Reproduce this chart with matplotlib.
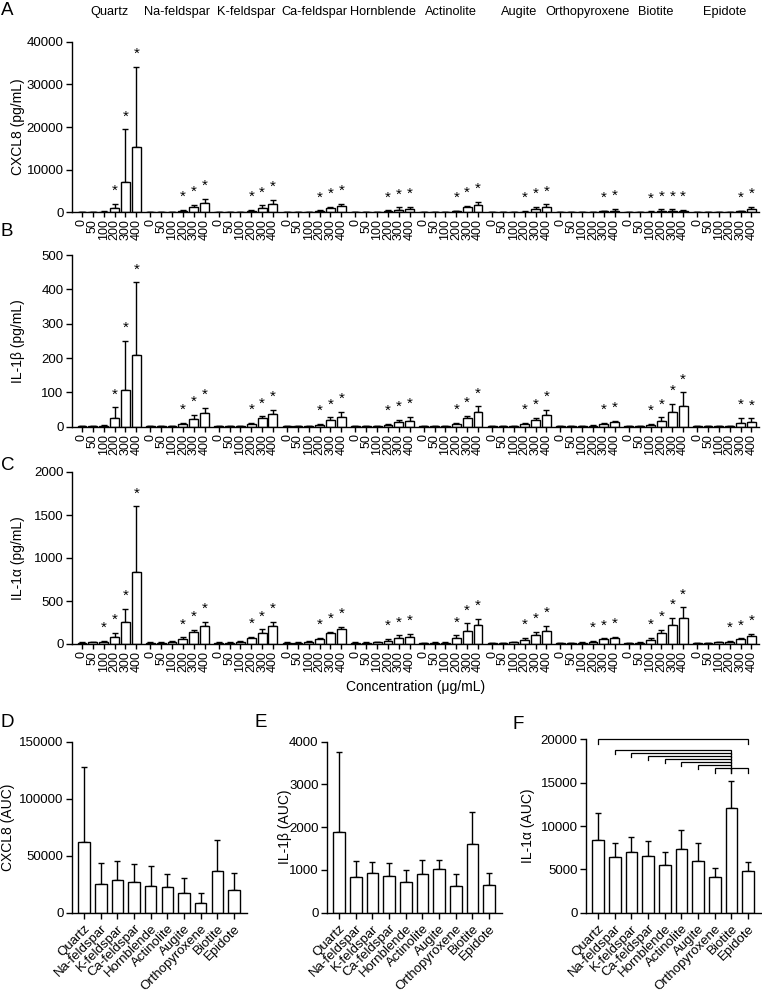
import numpy as np
import matplotlib
matplotlib.use("Agg")
import matplotlib.pyplot as plt
from matplotlib.transforms import blended_transform_factory

plt.rcParams['font.family'] = ['Liberation Sans', 'DejaVu Sans']
plt.rcParams['axes.linewidth'] = 1.0

# ---------------- data ----------------
groups = ['Quartz', 'Na-feldspar', 'K-feldspar', 'Ca-feldspar', 'Hornblende',
          'Actinolite', 'Augite', 'Orthopyroxene', 'Biotite', 'Epidote']
conc = ['0', '50', '100', '200', '300', '400']

cxcl8_mean = [
    [20, 30, 150, 950, 7050, 15400],
    [20, 20, 80, 300, 1150, 2100],
    [20, 20, 60, 300, 1000, 2000],
    [20, 20, 60, 250, 900, 1500],
    [20, 20, 50, 250, 550, 700],
    [20, 20, 50, 200, 1150, 1800],
    [20, 20, 50, 150, 780, 1150],
    [20, 20, 40, 80, 200, 400],
    [20, 20, 80, 300, 300, 200],
    [20, 20, 50, 80, 200, 780],
]
cxcl8_sd = [
    [40, 50, 200, 1000, 12400, 18600],
    [30, 30, 80, 250, 650, 950],
    [30, 30, 80, 250, 600, 900],
    [30, 30, 80, 200, 450, 550],
    [30, 30, 70, 200, 600, 600],
    [30, 30, 60, 200, 350, 700],
    [30, 30, 60, 150, 400, 700],
    [30, 30, 50, 80, 200, 400],
    [30, 30, 120, 400, 400, 300],
    [30, 30, 60, 80, 200, 550],
]
cxcl8_stars = [[3, 4, 5], [3, 4, 5], [3, 4, 5], [3, 4, 5], [3, 4, 5],
               [3, 4, 5], [3, 4, 5], [4, 5], [2, 3, 4, 5], [4, 5]]

il1b_mean = [
    [1, 2, 3, 24, 108, 208],
    [1, 1, 2, 8, 23, 39],
    [1, 1, 2, 8, 25, 38],
    [2, 2, 2, 5, 20, 29],
    [1, 1, 2, 5, 13, 17],
    [1, 1, 2, 8, 24, 43],
    [1, 1, 2, 8, 20, 33],
    [1, 1, 1, 3, 7, 13],
    [1, 1, 6, 18, 43, 59],
    [1, 1, 2, 2, 12, 14],
]
il1b_sd = [
    [1, 1, 3, 32, 141, 212],
    [1, 1, 1, 4, 11, 16],
    [1, 1, 1, 3, 5, 10],
    [1, 1, 1, 2, 7, 13],
    [1, 1, 1, 2, 7, 11],
    [1, 1, 1, 3, 8, 16],
    [1, 1, 1, 2, 6, 16],
    [1, 1, 1, 1, 3, 4],
    [1, 1, 3, 9, 23, 41],
    [1, 1, 1, 1, 13, 10],
]
il1b_stars = [[3, 4, 5], [3, 4, 5], [3, 4, 5], [3, 4, 5], [3, 4, 5],
              [3, 4, 5], [3, 4, 5], [4, 5], [2, 3, 4, 5], [4, 5]]

il1a_mean = [
    [15, 20, 20, 85, 255, 840],
    [15, 15, 20, 62, 140, 213],
    [15, 15, 20, 70, 132, 213],
    [15, 15, 25, 54, 128, 175],
    [15, 15, 20, 39, 70, 85],
    [10, 15, 15, 70, 155, 220],
    [10, 10, 20, 46, 108, 155],
    [10, 10, 15, 27, 54, 70],
    [10, 15, 46, 128, 225, 302],
    [10, 10, 20, 27, 54, 89],
]
il1a_sd = [
    [8, 8, 15, 45, 155, 760],
    [5, 5, 10, 15, 23, 47],
    [5, 5, 10, 15, 38, 47],
    [5, 5, 8, 20, 12, 25],
    [5, 5, 8, 19, 30, 31],
    [5, 5, 5, 30, 85, 70],
    [5, 5, 8, 24, 35, 58],
    [5, 5, 5, 12, 12, 15],
    [5, 5, 24, 35, 81, 124],
    [5, 5, 8, 12, 12, 27],
]
il1a_stars = [[2, 3, 4, 5], [3, 4, 5], [3, 4, 5], [3, 4, 5], [3, 4, 5],
              [3, 4, 5], [3, 4, 5], [3, 4, 5], [2, 3, 4, 5], [3, 4, 5]]

auc_cxcl8_mean = [62300, 25400, 28900, 27200, 23700, 22800, 17500, 8800, 36300, 19900]
auc_cxcl8_sd = [65700, 17900, 16100, 15500, 17500, 11100, 12600, 8200, 27700, 14900]
auc_il1b_mean = [1884, 845, 922, 860, 713, 899, 1016, 620, 1612, 643]
auc_il1b_sd = [1880, 364, 256, 303, 295, 334, 209, 287, 737, 295]
auc_il1a_mean = [8380, 6380, 6960, 6500, 5460, 7310, 5960, 4080, 12040, 4810]
auc_il1a_sd = [3080, 1660, 1730, 1770, 1580, 2270, 2120, 1110, 3160, 1070]

# significance comparisons for IL-1a AUC (pairs of group indices)
f_comparisons = [(0, 9), (1, 8), (2, 8), (3, 8), (4, 8), (5, 8), (6, 8), (7, 8), (8, 9)]

# ---------------- figure ----------------
W, H = 762, 991
fig = plt.figure(figsize=(W / 100, H / 100), dpi=100)


def frac_rect(left, top, right, bottom):
    return [left / W, 1 - bottom / H, (right - left) / W, (bottom - top) / H]


PITCH = 6.3
BAR_W = 0.82
TXT = 9.5


def dose_panel(rect, means, sds, stars, ymax, ystep, ylabel, show_groups=False):
    ax = fig.add_axes(rect)
    xs, ms, ss, labels = [], [], [], []
    for g in range(len(groups)):
        for j in range(len(conc)):
            xs.append(g * PITCH + j)
            ms.append(means[g][j])
            ss.append(sds[g][j])
            labels.append(conc[j])
    xs = np.array(xs, float)
    ms = np.array(ms, float)
    ss = np.array(ss, float)
    ax.bar(xs, ms, width=BAR_W, color='white', edgecolor='black', linewidth=1.0, zorder=2)
    ax.errorbar(xs, ms, yerr=[np.zeros_like(ss), ss], fmt='none', ecolor='black',
                elinewidth=1.0, capsize=2, capthick=1.0, zorder=1)
    for g in range(len(groups)):
        for j in stars[g]:
            x = g * PITCH + j
            ax.annotate('*', xy=(x, means[g][j] + sds[g][j]), xytext=(0, 6.5),
                        textcoords='offset points', ha='center', va='baseline',
                        fontsize=11, annotation_clip=False)
    ax.set_xlim(-0.92, (len(groups) - 1) * PITCH + 5 + 0.65)
    ax.set_ylim(0, ymax)
    ax.set_yticks(np.arange(0, ymax + 1, ystep))
    ax.set_xticks(xs)
    ax.set_xticklabels(labels, rotation=90, fontsize=9)
    ax.tick_params(axis='x', length=3.5, width=1.0, pad=1.5)
    ax.tick_params(axis='y', length=4, width=1.0, pad=2, labelsize=TXT)
    for s in ['top', 'right']:
        ax.spines[s].set_visible(False)
    ax.set_ylabel(ylabel, fontsize=10)
    ax.yaxis.set_label_coords(-0.0685, 0.5)
    if show_groups:
        tr = blended_transform_factory(ax.transData, fig.transFigure)
        for g, name in enumerate(groups):
            ax.text(g * PITCH + 2.5, 1 - 12 / H, name, transform=tr, ha='center',
                    va='center', fontsize=9.2)
    return ax


axA = dose_panel(frac_rect(72, 41.7, 758.5, 212.3), cxcl8_mean, cxcl8_sd, cxcl8_stars,
                 40000, 10000, 'CXCL8 (pg/mL)', show_groups=True)
axB = dose_panel(frac_rect(72, 255, 758.5, 426.7), il1b_mean, il1b_sd, il1b_stars,
                 500, 100, 'IL-1β (pg/mL)')
axC = dose_panel(frac_rect(72, 472, 758.5, 644), il1a_mean, il1a_sd, il1a_stars,
                 2000, 500, 'IL-1α (pg/mL)')
axC.set_xlabel('Concentration (μg/mL)', fontsize=10, labelpad=6)


def auc_panel(rect, means, sds, ymax, ystep, ylabel, label_x):
    ax = fig.add_axes(rect)
    xs = np.arange(len(groups))
    ax.bar(xs, means, width=0.7, color='white', edgecolor='black', linewidth=1.0, zorder=2)
    ax.errorbar(xs, means, yerr=[np.zeros(len(sds)), sds], fmt='none', ecolor='black',
                elinewidth=1.0, capsize=2.2, capthick=1.0, zorder=1)
    ax.set_xlim(-0.72, len(groups) - 1 + 0.78)
    ax.set_ylim(0, ymax)
    ax.set_yticks(np.arange(0, ymax + 1, ystep))
    ax.set_xticks(xs)
    ax.set_xticklabels(groups, rotation=45, ha='right', rotation_mode='anchor', fontsize=TXT)
    ax.tick_params(axis='x', length=4, width=1.0, pad=3)
    ax.tick_params(axis='y', length=4, width=1.0, pad=2, labelsize=TXT)
    for s in ['top', 'right']:
        ax.spines[s].set_visible(False)
    ax.set_ylabel(ylabel, fontsize=10)
    ax.yaxis.set_label_coords(label_x, 0.5)
    return ax


axD = auc_panel(frac_rect(72, 741.7, 247, 912.7), auc_cxcl8_mean, auc_cxcl8_sd,
                150000, 50000, 'CXCL8 (AUC)', -0.326)
axE = auc_panel(frac_rect(327, 741.7, 502, 912.7), auc_il1b_mean, auc_il1b_sd,
                4000, 1000, 'IL-1β (AUC)', -0.2)
axF = auc_panel(frac_rect(586, 739.5, 761, 912.7), auc_il1a_mean, auc_il1a_sd,
                20000, 5000, 'IL-1α (AUC)', -0.29)

# significance brackets
bracket_levels = [20000, 18820, 18460, 18100, 17740, 17380, 17020, 16660, 16660]
tick_drop = 480
for (a, b), h in zip(f_comparisons, bracket_levels):
    axF.plot([a, a, b, b], [h - tick_drop, h, h, h - tick_drop], color='black',
             linewidth=0.9, clip_on=False, solid_joinstyle='miter')

# panel letters
for letter, x, y in [('A', 1, 2), ('B', 1, 223), ('C', 1, 457),
                     ('D', 1, 714), ('E', 255, 714), ('F', 512, 716)]:
    fig.text(x / W, 1 - y / H, letter, fontsize=13.5, ha='left', va='top')

fig.savefig('out.png', dpi=100)
